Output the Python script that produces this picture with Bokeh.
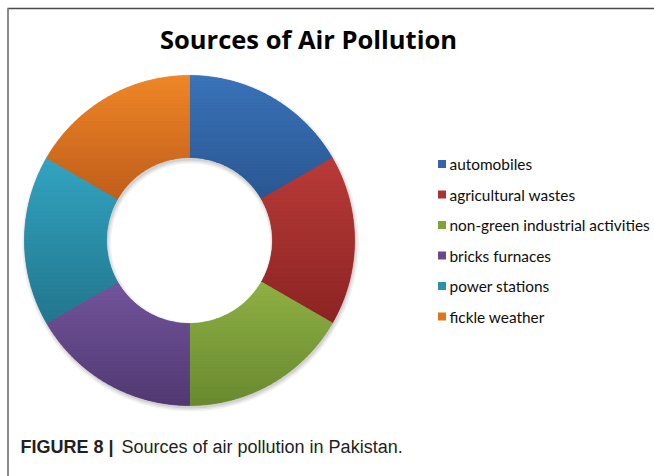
import numpy as np
from bokeh.plotting import figure
from bokeh.models import Range1d
from bokeh.core.properties import value
from bokeh.embed import file_html
from bokeh.resources import INLINE

W, H = 654, 476

# ---- data -------------------------------------------------------------
sources = [
    "automobiles",
    "agricultural wastes",
    "non-green industrial activities",
    "bricks furnaces",
    "power stations",
    "fickle weather",
]
shares = [1, 1, 1, 1, 1, 1]

# light (top) and dark (bottom) shade of every slice
top_colors = ["#3a73b9", "#b93b38", "#8eb144", "#73559c", "#33a4c1", "#f08628"]
bottom_colors = ["#2a5792", "#8b2423", "#6a8930", "#513972", "#22768d", "#bf5e1b"]
legend_colors = ["#3366ab", "#ab3331", "#80a23c", "#654a8a", "#2d90ab", "#e0741f"]

title = "Sources of Air Pollution"
caption_label = "FIGURE 8 |"
caption_text = "Sources of air pollution in Pakistan."

# ---- geometry (pixel-like data units, y up) ----------------------------
cx, cy = 189.0, H - 240.0
r_out, r_in = 165.0, 83.0


def hex_rgb(h):
    h = h.lstrip("#")
    return np.array([int(h[i:i + 2], 16) for i in (0, 2, 4)], dtype=float)


def mix(c0, c1, t):
    c = hex_rgb(c0) * (1 - t) + hex_rgb(c1) * t
    return "#%02x%02x%02x" % tuple(int(round(v)) for v in c)


def ring_sector(a0, a1, n=120):
    # outer arc a0 -> a1, then inner arc back
    t = np.radians(np.linspace(a0, a1, n))
    xo, yo = cx + r_out * np.cos(t), cy + r_out * np.sin(t)
    xi, yi = cx + r_in * np.cos(t[::-1]), cy + r_in * np.sin(t[::-1])
    return list(zip(np.r_[xo, xi], np.r_[yo, yi]))


def clip_y(poly, y0, above):
    out = []
    n = len(poly)
    for i in range(n):
        P, Q = poly[i], poly[(i + 1) % n]
        pin = P[1] >= y0 if above else P[1] <= y0
        qin = Q[1] >= y0 if above else Q[1] <= y0
        if pin:
            out.append(P)
        if pin != qin:
            t = (y0 - P[1]) / (Q[1] - P[1])
            out.append((P[0] + t * (Q[0] - P[0]), y0))
    return out


p = figure(width=W, height=H, output_backend="svg", toolbar_location=None,
           x_range=Range1d(0, W), y_range=Range1d(0, H),
           x_axis_location=None, y_axis_location=None, min_border=0)
p.grid.visible = False
p.outline_line_color = None
p.background_fill_color = "white"
p.border_fill_color = "white"

# frame lines
p.segment(x0=[7], y0=[H - 8], x1=[W], y1=[H - 8], line_color="#4a4a4a", line_width=1.5)
p.segment(x0=[7.5], y0=[H - 8], x1=[7.5], y1=[0], line_color="#8a8a8a", line_width=2)

# soft drop shadow under the ring
for k, a in [(3.5, 0.05), (2.0, 0.06), (0.5, 0.08)]:
    p.annulus(x=[cx + 1], y=[cy - 2.5], inner_radius=r_in - k, outer_radius=r_out + k,
              fill_color="#000000", fill_alpha=a, line_color=None)

# slices, shaded from top to bottom in thin horizontal bands
fr = np.array(shares, dtype=float) / sum(shares)
starts = 90 - 360 * np.r_[0, np.cumsum(fr)[:-1]]
ends = starts - 360 * fr

for a0, a1, c0, c1, cm in zip(starts, ends, top_colors, bottom_colors, legend_colors):
    poly = ring_sector(a0, a1)
    ys_all = [q[1] for q in poly]
    ymin, ymax = min(ys_all), max(ys_all)
    p.annular_wedge(x=[cx], y=[cy], inner_radius=r_in, outer_radius=r_out,
                    start_angle=[np.radians(a1)], end_angle=[np.radians(a0)],
                    fill_color=cm, line_color=None)
    nb = 40
    edges = np.linspace(ymax, ymin, nb + 1)
    bx, by, bc = [], [], []
    for j in range(nb):
        hi, lo = edges[j], edges[j + 1]
        part = clip_y(clip_y(poly, lo, True), hi, False)
        if len(part) < 3:
            continue
        bx.append([q[0] for q in part])
        by.append([q[1] for q in part])
        bc.append(mix(c0, c1, (j + 0.5) / nb))
    p.patches(xs=bx, ys=by, fill_color=bc, line_color=bc, line_width=0.7)

# title
p.text(x=[308], y=[H - 38], text=[title], text_font=value("Open Sans"),
       text_font_size="25.5px", text_font_style="bold", text_color="#000000",
       text_align="center", text_baseline="middle")

# legend
rows = H - (163.5 + 30.5 * np.arange(len(sources)))
p.rect(x=[441.5] * len(sources), y=rows, width=8, height=8,
       fill_color=legend_colors, line_color=None)
p.text(x=[449] * len(sources), y=rows, text=sources, text_font=value("Lato"),
       text_font_size="15.4px", text_color="#0d0d0d",
       text_align="left", text_baseline="middle")

# caption
p.text(x=[20], y=[H - 446], text=[caption_label], text_font=value("Liberation Sans"),
       text_font_size="18px", text_font_style="bold", text_color="#231f20",
       text_align="left", text_baseline="middle")
p.text(x=[121], y=[H - 446], text=[caption_text], text_font=value("Liberation Sans"),
       text_font_size="18px", text_color="#231f20",
       text_align="left", text_baseline="middle")

open("out.html", "w").write(file_html(p, INLINE))
